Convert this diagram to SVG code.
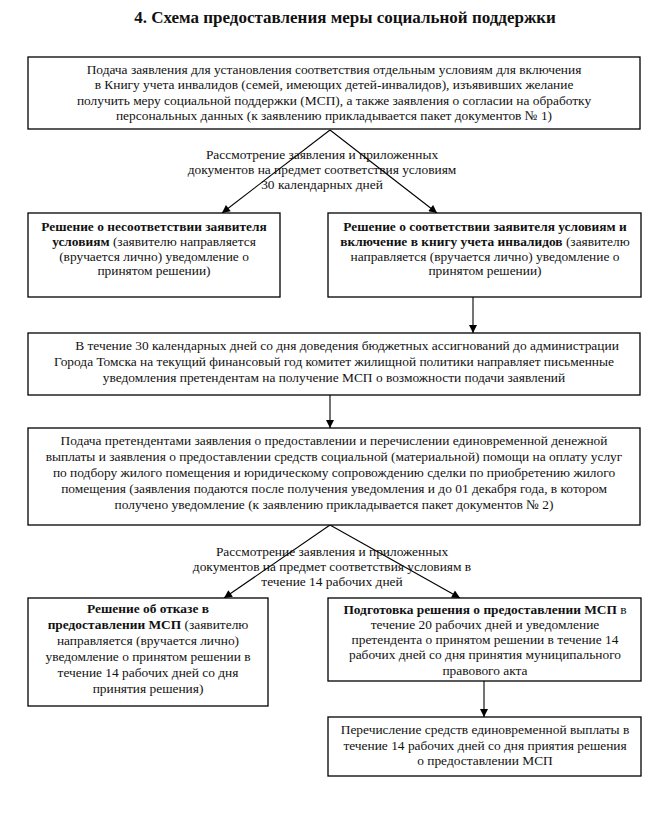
<svg xmlns="http://www.w3.org/2000/svg" width="656" height="822" viewBox="0 0 656 822">
<style>
.t{font-family:"Liberation Serif","Times New Roman",serif;font-size:13.4px;fill:#111;text-anchor:middle}
.b{font-weight:bold}
.title{font-family:"Liberation Serif","Times New Roman",serif;font-size:17px;font-weight:bold;fill:#111;text-anchor:middle}
.box{fill:#fff;stroke:#000;stroke-width:1.3}
.c{stroke:#000;stroke-width:1.1;fill:none;marker-end:url(#ah)}
</style>
<defs>
<marker id="ah" viewBox="0 0 10 10" refX="10" refY="5" markerWidth="9" markerHeight="8" markerUnits="userSpaceOnUse" orient="auto">
<path d="M0,0 L10,5 L0,10 z" fill="#000"/>
</marker>
<clipPath id="clip5r"><rect x="328" y="598" width="313" height="83"/></clipPath>
</defs>
<rect width="656" height="822" fill="#fff"/>
<text class="title" x="345" y="23">4. Схема предоставления меры социальной поддержки</text>

<g id="connectors">
<line class="c" x1="330" y1="130" x2="222" y2="213"/>
<line class="c" x1="330" y1="130" x2="437" y2="213"/>
<line class="c" x1="473" y1="297" x2="473" y2="333"/>
<line class="c" x1="330" y1="395" x2="330" y2="428"/>
<line class="c" x1="330" y1="525" x2="224" y2="598"/>
<line class="c" x1="330" y1="525" x2="460" y2="598"/>
<line class="c" x1="484" y1="681" x2="484" y2="717"/>
</g>

<g id="label1">
<text class="t" x="322" y="159">Рассмотрение заявления и приложенных</text>
<text class="t" x="322" y="174">документов на предмет соответствия условиям</text>
<text class="t" x="322" y="189">30 календарных дней</text>
</g>
<g id="label2">
<text class="t" x="332" y="556">Рассмотрение заявления и приложенных</text>
<text class="t" x="332" y="571">документов на предмет соответствия условиям в</text>
<text class="t" x="332" y="586">течение 14 рабочих дней</text>
</g>

<g id="n1">
<rect class="box" x="28" y="57" width="612" height="72"/>
<text class="t" x="334" y="74">Подача заявления для установления соответствия отдельным условиям для включения</text>
<text class="t" x="334" y="89">в Книгу учета инвалидов (семей, имеющих детей-инвалидов), изъявивших желание</text>
<text class="t" x="334" y="105">получить меру социальной поддержки (МСП), а также заявления о согласии на обработку</text>
<text class="t" x="334" y="120">персональных данных (к заявлению прикладывается пакет документов № 1)</text>
</g>

<g id="n2">
<rect class="box" x="28" y="213" width="252" height="84"/>
<text class="t b" x="154" y="231">Решение о несоответствии заявителя</text>
<text class="t" x="154" y="246"><tspan class="b">условиям</tspan> (заявителю направляется</text>
<text class="t" x="154" y="261">(вручается лично) уведомление о</text>
<text class="t" x="154" y="275">принятом решении)</text>
</g>

<g id="n3">
<rect class="box" x="328" y="213" width="313" height="84"/>
<text class="t b" x="485" y="231">Решение о соответствии заявителя условиям и</text>
<text class="t" x="485" y="246"><tspan class="b">включение в книгу учета инвалидов</tspan> (заявителю</text>
<text class="t" x="485" y="261">направляется (вручается лично) уведомление о</text>
<text class="t" x="485" y="275">принятом решении)</text>
</g>

<g id="n4">
<rect class="box" x="28" y="333" width="612" height="62"/>
<text class="t" x="347" y="350">В течение 30 календарных дней со дня доведения бюджетных ассигнований до администрации</text>
<text class="t" x="334" y="366">Города Томска на текущий финансовый год комитет жилищной политики направляет письменные</text>
<text class="t" x="334" y="382">уведомления претендентам на получение МСП о возможности подачи заявлений</text>
</g>

<g id="n5">
<rect class="box" x="28" y="428" width="612" height="97"/>
<text class="t" x="334" y="445">Подача претендентами заявления о предоставлении и перечислении единовременной денежной</text>
<text class="t" x="334" y="461">выплаты и заявления о предоставлении средств социальной (материальной) помощи на оплату услуг</text>
<text class="t" x="334" y="477">по подбору жилого помещения и юридическому сопровождению сделки по приобретению жилого</text>
<text class="t" x="334" y="493">помещения (заявления подаются после получения уведомления и до 01 декабря года, в котором</text>
<text class="t" x="334" y="509">получено уведомление (к заявлению прикладывается пакет документов № 2)</text>
</g>

<g id="n6">
<rect class="box" x="28" y="598" width="240" height="108"/>
<text class="t b" x="148" y="613">Решение об отказе в</text>
<text class="t" x="148" y="629"><tspan class="b">предоставлении МСП</tspan> (заявителю</text>
<text class="t" x="148" y="645">направляется (вручается лично)</text>
<text class="t" x="148" y="661">уведомление о принятом решении в</text>
<text class="t" x="148" y="677">течение 14 рабочих дней со дня</text>
<text class="t" x="148" y="693">принятия решения)</text>
</g>

<g id="n7">
<rect class="box" x="328" y="598" width="313" height="83"/>
<g clip-path="url(#clip5r)">
<text class="t b" x="485" y="614">Подготовка решения о предоставлении МСП <tspan style="font-weight:normal">в</tspan></text>
<text class="t" x="485" y="629">течение 20 рабочих дней и уведомление</text>
<text class="t" x="485" y="644">претендента о принятом решении в течение 14</text>
<text class="t" x="485" y="659">рабочих дней со дня принятия муниципального</text>
<text class="t" x="485" y="675">правового акта</text>
</g>
</g>

<g id="n8">
<rect class="box" x="328" y="717" width="313" height="59"/>
<text class="t" x="485" y="734">Перечисление средств единовременной выплаты в</text>
<text class="t" x="485" y="750">течение 14 рабочих дней со дня приятия решения</text>
<text class="t" x="485" y="765">о предоставлении МСП</text>
</g>
</svg>
